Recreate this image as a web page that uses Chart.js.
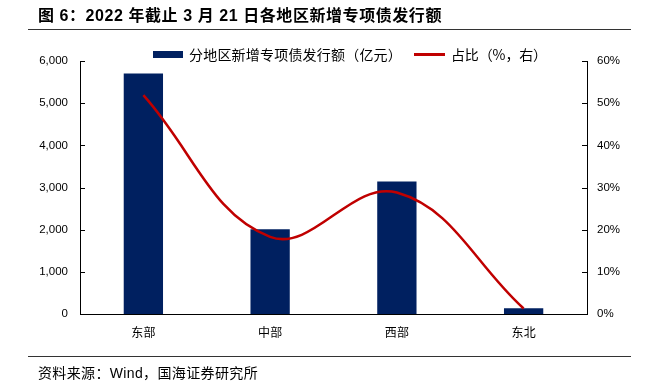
<!DOCTYPE html>
<html>
<head>
<meta charset="utf-8">
<script src="https://cdn.jsdelivr.net/npm/chart.js@4/dist/chart.umd.min.js"></script>
<style>
  html,body{margin:0;padding:0;background:#fff;}
  #wrap{position:relative;width:652px;height:383px;overflow:hidden;}
  .txt{position:absolute;white-space:nowrap;color:#000;line-height:1;font-family:"Liberation Sans","Noto Sans CJK SC",sans-serif;}
  #title{left:38px;top:8px;font-size:16px;font-weight:bold;}
  .rule{position:absolute;left:28px;width:603px;height:1px;background:#333;}
  #foot{left:38px;top:366px;font-size:14px;}
  .lgtxt{top:47px;font-size:14px;font-family:"Noto Sans CJK SC",sans-serif;}
  .sw{position:absolute;}
  canvas{position:absolute;left:0;top:0;}
</style>
</head>
<body>
<div id="wrap">
  <canvas id="c" width="652" height="383"></canvas>
  <div id="title" class="txt" data-w="404">图 6：2022 年截止 3 月 21 日各地区新增专项债发行额</div>
  <div class="rule" style="top:29px"></div>
  <div class="sw" id="sw1" style="left:153px;top:51px;width:30px;height:7px;"></div>
  <div class="txt lgtxt" id="lg1" style="left:189px" data-w="213"></div>
  <div class="sw" id="sw2" style="left:414px;top:53px;width:31px;height:2.5px;"></div>
  <div class="txt lgtxt" id="lg2" style="left:451px" data-w="96"></div>
  <div class="rule" style="top:356px"></div>
  <div id="foot" class="txt" data-w="220">资料来源：Wind，国海证券研究所</div>
</div>
<script>
const categories = ["东部", "中部", "西部", "东北"];
const issuance = [5705, 2010, 3140, 135];       // 亿元
const share = [51.9, 18.3, 28.8, 1.3];          // %
const leftTicks = [0, 1000, 2000, 3000, 4000, 5000, 6000];
const rightTicks = [0, 10, 20, 30, 40, 50, 60];
const seriesNames = ["分地区新增专项债发行额（亿元）", "占比（%，右）"];
const barColor = "#002060";
const lineColor = "#C00000";

document.getElementById('lg1').textContent = seriesNames[0];
document.getElementById('lg2').textContent = seriesNames[1];
document.getElementById('sw1').style.background = barColor;
document.getElementById('sw2').style.background = lineColor;

// stretch texts to the reference widths via letter-spacing
document.querySelectorAll('[data-w]').forEach(el => {
  const target = +el.dataset.w;
  const n = [...el.textContent].length;
  const w = el.getBoundingClientRect().width;
  el.style.letterSpacing = ((target - w) / n) + 'px';
});

const innerTicks = {
  id: 'innerTicks',
  afterDraw(chart) {
    const ctx = chart.ctx;
    ctx.save();
    ctx.strokeStyle = '#000';
    ctx.lineWidth = 1;
    const yl = chart.scales.y, yr = chart.scales.y1;
    yl.ticks.forEach(t => {
      const y = Math.round(yl.getPixelForValue(t.value)) + 0.5;
      ctx.beginPath(); ctx.moveTo(yl.right, y); ctx.lineTo(yl.right + 5, y); ctx.stroke();
    });
    yr.ticks.forEach(t => {
      const y = Math.round(yr.getPixelForValue(t.value)) + 0.5;
      ctx.beginPath(); ctx.moveTo(yr.left, y); ctx.lineTo(yr.left - 5, y); ctx.stroke();
    });
    ctx.restore();
  }
};

new Chart(document.getElementById('c'), {
  data: {
    labels: categories,
    datasets: [
      {
        type: 'line',
        label: seriesNames[1],
        data: share,
        yAxisID: 'y1',
        borderColor: lineColor,
        borderWidth: 2.5,
        pointRadius: 0,
        tension: 0.4,
        order: 0
      },
      {
        type: 'bar',
        label: seriesNames[0],
        data: issuance,
        yAxisID: 'y',
        backgroundColor: barColor,
        categoryPercentage: 1,
        barPercentage: 0.31,
        order: 1
      }
    ]
  },
  options: {
    responsive: false,
    animation: false,
    layout: { padding: { left: 0, right: 0, top: 61, bottom: 39 } },
    plugins: { legend: { display: false }, tooltip: { enabled: false } },
    scales: {
      x: {
        grid: { display: false, drawTicks: false },
        border: { display: true, color: '#000', width: 1 },
        ticks: { color: '#000', padding: 11, font: { family: '"Noto Sans CJK SC"', size: 12 } },
        afterFit(s) { s.height = 30; }
      },
      y: {
        position: 'left',
        min: 0, max: 6000,
        afterBuildTicks(s) { s.ticks = leftTicks.map(v => ({ value: v })); },
        grid: { display: false, drawTicks: false },
        border: { display: true, color: '#000', width: 1 },
        ticks: { color: '#000', padding: 12, font: { family: '"Liberation Sans"', size: 11.5 },
                 callback: v => v.toLocaleString('en-US') },
        afterFit(s) { s.width = 80; }
      },
      y1: {
        position: 'right',
        min: 0, max: 60,
        afterBuildTicks(s) { s.ticks = rightTicks.map(v => ({ value: v })); },
        grid: { display: false, drawTicks: false },
        border: { display: true, color: '#000', width: 1 },
        ticks: { color: '#000', padding: 10, font: { family: '"Liberation Sans"', size: 11.5 },
                 callback: v => v + '%' },
        afterFit(s) { s.width = 65; }
      }
    }
  },
  plugins: [innerTicks]
});
</script>
</body>
</html>
